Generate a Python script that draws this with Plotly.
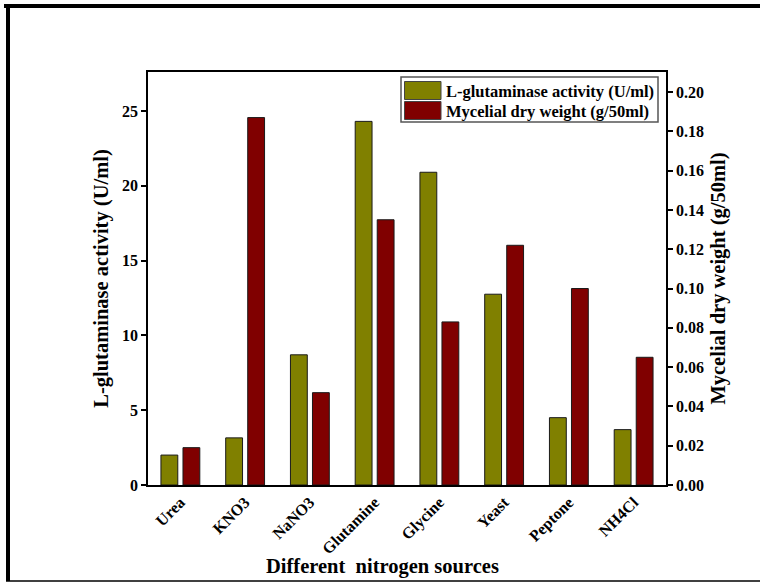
import plotly.graph_objects as go

categories = ["Urea", "KNO3", "NaNO3", "Glutamine", "Glycine", "Yeast", "Peptone", "NH4Cl"]
glutaminase_activity = [2.0, 3.15, 8.7, 24.3, 20.9, 12.75, 4.5, 3.7]
mycelial_dry_weight = [0.019, 0.187, 0.047, 0.135, 0.083, 0.122, 0.100, 0.065]
left_ticks = [0, 5, 10, 15, 20, 25]
right_ticks = [0.00, 0.02, 0.04, 0.06, 0.08, 0.10, 0.12, 0.14, 0.16, 0.18, 0.20]
series_names = ["L-glutaminase activity (U/ml)", "Mycelial dry weight (g/50ml)"]
series_colors = ["#808000", "#800000"]

FONT = "Liberation Serif"
W, H = 760, 583
L, R, T, B = 148, 666, 72, 485

def px_x(p):
    return (p - L) / (R - L)

def px_y(p):
    return (B - p) / (B - T)

fig = go.Figure()
fig.add_trace(go.Bar(
    x=categories, y=glutaminase_activity, name=series_names[0],
    marker=dict(color=series_colors[0], line=dict(color="#1a1a1a", width=1)),
    width=0.26, offset=-0.30, yaxis="y", showlegend=False,
))
fig.add_trace(go.Bar(
    x=categories, y=mycelial_dry_weight, name=series_names[1],
    marker=dict(color=series_colors[1], line=dict(color="#1a1a1a", width=1)),
    width=0.26, offset=0.04, yaxis="y2", showlegend=False,
))

tickfont = dict(family=FONT, size=16, color="black", weight="bold")
titlefont = dict(family=FONT, size=20.5, color="black", weight="bold")

# legend drawn as a boxed key inside the plot
shapes = [
    dict(type="rect", xref="paper", yref="paper", x0=px_x(401), x1=px_x(658), y0=px_y(77), y1=px_y(122),
         line=dict(color="#555", width=1.5), fillcolor="white", layer="above"),
]
annotations = []
for i, (nm, col) in enumerate(zip(series_names, series_colors)):
    top = 81.5 + i * 20
    shapes.append(dict(type="rect", xref="paper", yref="paper", x0=px_x(404.5), x1=px_x(441),
                       y0=px_y(top), y1=px_y(top + 18), fillcolor=col,
                       line=dict(color="#444", width=1), layer="above"))
    annotations.append(dict(text=nm, xref="paper", yref="paper", x=px_x(443.5), y=px_y(top + 9.5),
                            xanchor="left", yanchor="middle", showarrow=False,
                            font=dict(family=FONT, size=16.5, color="black", weight="bold")))

annotations.append(dict(
    text="Different  nitrogen sources", xref="paper", yref="paper",
    x=px_x(382), y=px_y(566), xanchor="center", yanchor="middle", showarrow=False,
    font=dict(family=FONT, size=20.5, color="black", weight="bold"),
))

shapes += [
    dict(type="line", xref="paper", yref="paper", x0=px_x(4), x1=px_x(775), y0=px_y(6), y1=px_y(6),
         line=dict(color="black", width=4)),
    dict(type="line", xref="paper", yref="paper", x0=px_x(8), x1=px_x(8), y0=px_y(4), y1=px_y(581),
         line=dict(color="black", width=4)),
    dict(type="line", xref="paper", yref="paper", x0=px_x(6), x1=px_x(775), y0=px_y(581), y1=px_y(581),
         line=dict(color="black", width=1.5)),
]

fig.update_layout(
    width=W, height=H,
    margin=dict(l=L, r=W - R, t=T, b=H - B),
    paper_bgcolor="white", plot_bgcolor="white",
    barmode="overlay",
    showlegend=False,
    xaxis=dict(
        range=[-0.5, 7.5], showline=True, linecolor="black", linewidth=1.5,
        mirror=True, ticks="", tickangle=-45,
        tickfont=dict(family=FONT, size=16, color="black", weight="bold"),
        showgrid=False,
    ),
    yaxis=dict(
        range=[0, 27.6], tickvals=left_ticks, ticks="outside", ticklen=5, tickwidth=1.5,
        tickcolor="black", showline=True, linecolor="black", linewidth=1.5,
        showgrid=False, zeroline=False, tickfont=tickfont,
        title=dict(text="L-glutaminase activity (U/ml)", font=titlefont, standoff=8),
    ),
    yaxis2=dict(
        range=[0, 0.2102], tickvals=right_ticks, tickformat=".2f", overlaying="y", side="right",
        ticks="outside", ticklen=5, tickwidth=1.5, tickcolor="black",
        showline=True, linecolor="black", linewidth=1.5, showgrid=False, zeroline=False,
        tickfont=tickfont,
        title=dict(text="Mycelial dry weight (g/50ml)", font=titlefont, standoff=8),
    ),
    annotations=annotations,
    shapes=shapes,
)

fig.write_html("out.html", config={"displayModeBar": False},
               post_script="document.body.style.margin='0px';")
